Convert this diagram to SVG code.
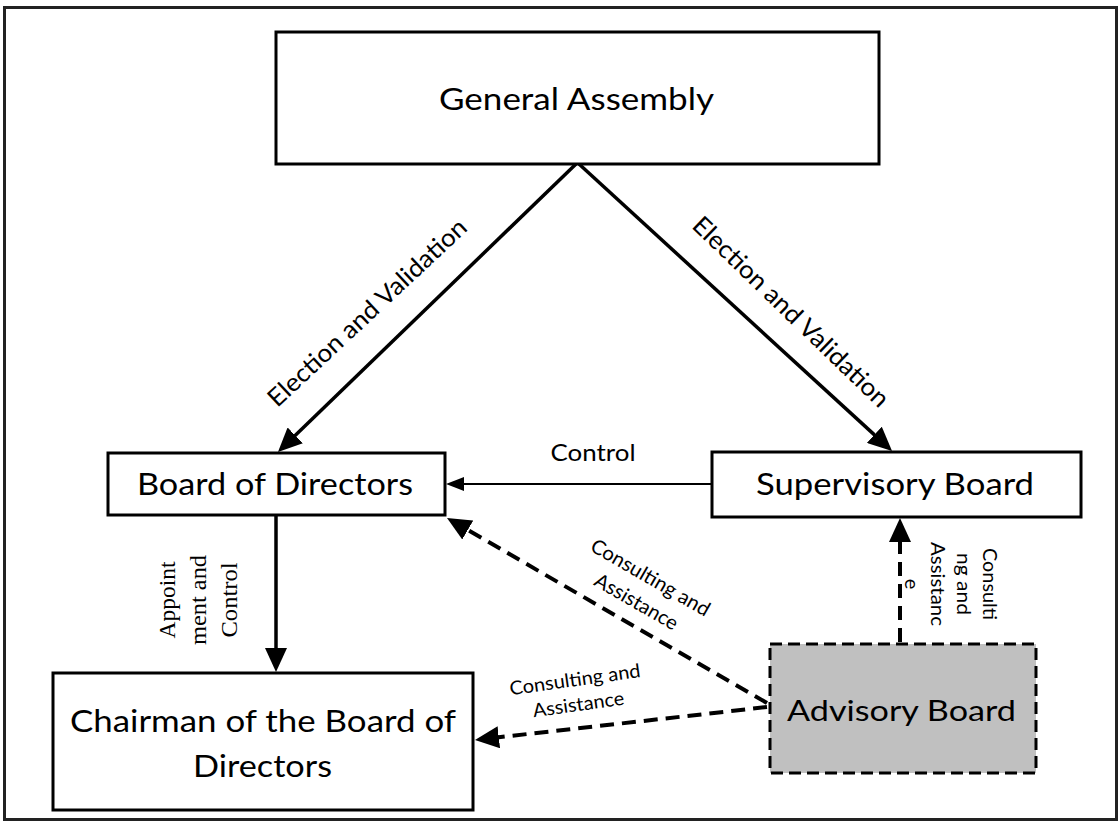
<svg xmlns="http://www.w3.org/2000/svg" width="1120" height="822" viewBox="0 0 1120 822">
<style>
.box{fill:#fff;stroke:#000;stroke-width:3}
.adv{fill:#c0c0c0;stroke:#000;stroke-width:3;stroke-dasharray:12 6}
.lbl{font-family:Lato,"Liberation Sans",sans-serif;fill:#000}
.ser{font-family:"Liberation Serif",serif;fill:#000}
.solid{fill:none;stroke:#000;stroke-width:3.5}
.thin{fill:none;stroke:#000;stroke-width:2}
.dash{fill:none;stroke:#000;stroke-width:4;stroke-dasharray:14 8}
</style>
<defs>
<marker id="ah" markerUnits="userSpaceOnUse" markerWidth="24" markerHeight="22" viewBox="0 0 24 22" refX="12" refY="11" orient="auto"><path d="M0,0 L24,11 L0,22 z" fill="#000"/></marker>
<marker id="ahs" markerUnits="userSpaceOnUse" markerWidth="18" markerHeight="14" viewBox="0 0 18 14" refX="9" refY="7" orient="auto"><path d="M0,0 L18,7 L0,14 z" fill="#000"/></marker>
</defs>
<rect x="0" y="0" width="1120" height="822" fill="#fff"/>
<rect x="4.5" y="7.5" width="1112" height="812" fill="none" stroke="#222" stroke-width="3"/>

<g id="connectors">
<line class="solid" x1="576" y1="164" x2="286.6" y2="443.7" marker-end="url(#ah)"/>
<line class="solid" x1="579" y1="164" x2="883.2" y2="442.9" marker-end="url(#ah)"/>
<line class="thin" x1="711" y1="484" x2="455" y2="484" marker-end="url(#ahs)"/>
<line class="solid" x1="276" y1="516" x2="276" y2="660" marker-end="url(#ah)"/>
<line class="dash" x1="767" y1="703" x2="457.4" y2="524" marker-end="url(#ah)"/>
<line class="dash" x1="767" y1="707" x2="486.9" y2="738.6" marker-end="url(#ah)"/>
<line class="dash" x1="900" y1="642" x2="900" y2="530" marker-end="url(#ah)"/>
<text class="lbl" font-size="25" text-anchor="middle" textLength="262" lengthAdjust="spacingAndGlyphs" transform="translate(373,319) rotate(-43)">Election and Validation</text>
<text class="lbl" font-size="25" text-anchor="middle" textLength="262" lengthAdjust="spacingAndGlyphs" transform="translate(785,318) rotate(44)">Election and Validation</text>
<text class="lbl" font-size="23" text-anchor="middle" x="593" y="461" textLength="85" lengthAdjust="spacingAndGlyphs">Control</text>
<g transform="translate(175,600) rotate(-90)">
<text class="ser" font-size="23" text-anchor="middle" x="0" y="0" textLength="77" lengthAdjust="spacingAndGlyphs">Appoint</text>
<text class="ser" font-size="23" text-anchor="middle" x="0" y="31" textLength="90" lengthAdjust="spacingAndGlyphs">ment and</text>
<text class="ser" font-size="23" text-anchor="middle" x="0" y="62" textLength="75" lengthAdjust="spacingAndGlyphs">Control</text>
</g>
<g transform="translate(640,595.5) rotate(30)">
<text class="lbl" font-size="20" text-anchor="middle" x="0" y="-14" textLength="134" lengthAdjust="spacingAndGlyphs">Consulting and</text>
<text class="lbl" font-size="20" text-anchor="middle" x="0" y="14" textLength="93" lengthAdjust="spacingAndGlyphs">Assistance</text>
</g>
<g transform="translate(577.5,698.5) rotate(-8)">
<text class="lbl" font-size="19" text-anchor="middle" x="0" y="-12.5" textLength="132" lengthAdjust="spacingAndGlyphs">Consulting and</text>
<text class="lbl" font-size="19" text-anchor="middle" x="0" y="12.5" textLength="92" lengthAdjust="spacingAndGlyphs">Assistance</text>
</g>
<g transform="translate(983,584) rotate(90)">
<text class="lbl" font-size="20" text-anchor="middle" x="0" y="0" textLength="72" lengthAdjust="spacingAndGlyphs">Consulti</text>
<text class="lbl" font-size="20" text-anchor="middle" x="0" y="26" textLength="62" lengthAdjust="spacingAndGlyphs">ng and</text>
<text class="lbl" font-size="20" text-anchor="middle" x="0" y="52" textLength="84" lengthAdjust="spacingAndGlyphs">Assistanc</text>
<text class="lbl" font-size="20" text-anchor="middle" x="0" y="78">e</text>
</g>
</g>

<g id="general-assembly">
<rect class="box" x="276" y="32" width="603" height="132"/>
<text class="lbl" font-size="30" text-anchor="middle" x="576.5" y="110" textLength="275" lengthAdjust="spacingAndGlyphs">General Assembly</text>
</g>
<g id="board-of-directors">
<rect class="box" x="108" y="453" width="337" height="62"/>
<text class="lbl" font-size="31" text-anchor="middle" x="275" y="495" textLength="276" lengthAdjust="spacingAndGlyphs">Board of Directors</text>
</g>
<g id="supervisory-board">
<rect class="box" x="712" y="452" width="369" height="65"/>
<text class="lbl" font-size="31" text-anchor="middle" x="895" y="495" textLength="278" lengthAdjust="spacingAndGlyphs">Supervisory Board</text>
</g>
<g id="chairman">
<rect class="box" x="53" y="673" width="420" height="137"/>
<text class="lbl" font-size="31" text-anchor="middle" x="263" y="732" textLength="386" lengthAdjust="spacingAndGlyphs">Chairman of the Board of</text>
<text class="lbl" font-size="31" text-anchor="middle" x="262.5" y="777" textLength="139" lengthAdjust="spacingAndGlyphs">Directors</text>
</g>
<g id="advisory-board">
<rect class="adv" x="770" y="644" width="266" height="129"/>
<text class="lbl" font-size="29" text-anchor="middle" x="901.5" y="721" textLength="229" lengthAdjust="spacingAndGlyphs">Advisory Board</text>
</g>
</svg>
